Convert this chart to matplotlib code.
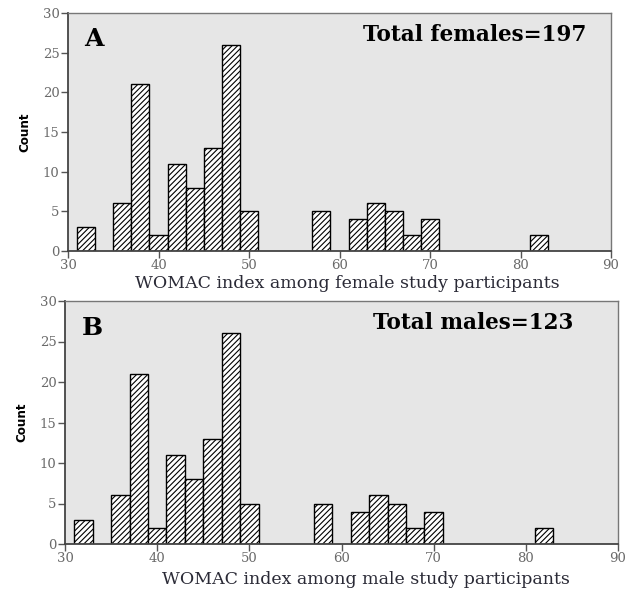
import matplotlib.pyplot as plt
import numpy as np

# WOMAC histogram, bins of width 2 (left edges listed)
bin_left = [31, 35, 37, 39, 41, 43, 45, 47, 49, 57, 61, 63, 65, 67, 69, 81]
counts = [3, 6, 21, 2, 11, 8, 13, 26, 5, 5, 4, 6, 5, 2, 4, 2]

panels = [
    ('A', 'Total females=197', 'WOMAC index among female study participants'),
    ('B', 'Total males=123', 'WOMAC index among male study participants'),
]

fig = plt.figure(figsize=(6.42, 5.92), dpi=100)
W, H = 642, 592
# pixel boxes (left, top, right, bottom) plus text placement in axes fractions
boxes = [(68, 13, 611, 251), (65, 301, 618, 544)]
total_x = [0.955, 0.92]
label_xy = [(0.514, -0.135), (0.545, -0.145)]

plt.rcParams['hatch.linewidth'] = 0.8

for i, ((letter, total, xlabel), (l, t, r, b)) in enumerate(zip(panels, boxes)):
    ax = fig.add_axes([l / W, 1 - b / H, (r - l) / W, (b - t) / H])
    ax.set_facecolor('#e6e6e6')
    ax.bar(bin_left, counts, width=2, align='edge', color='white',
           edgecolor='black', hatch='//////', linewidth=1.0)
    ax.set_xlim(30, 90)
    ax.set_ylim(0, 30)
    ax.set_xticks(np.arange(30, 91, 10))
    ax.set_yticks(np.arange(0, 31, 5))
    for s in ['left', 'bottom']:
        ax.spines[s].set_color('#444444')
        ax.spines[s].set_linewidth(1.3)
    for s in ['top', 'right']:
        ax.spines[s].set_color('#777777')
        ax.spines[s].set_linewidth(1.0)
    ax.tick_params(axis='both', colors='#555555', labelcolor='#6a6a6a',
                   labelsize=9.5, length=5, width=1, pad=1)
    for lab in ax.get_xticklabels() + ax.get_yticklabels():
        lab.set_family('DejaVu Serif')
    ax.set_ylabel('Count', family='DejaVu Sans', fontstretch='condensed',
                  fontweight='bold', fontsize=9.5, labelpad=8)
    ax.set_xlabel(xlabel, family='DejaVu Serif', fontsize=12.5,
                  color='#2a2a36', va='center')
    ax.xaxis.set_label_coords(*label_xy[i])
    ax.text(0.03, 0.94, letter, transform=ax.transAxes, ha='left', va='top',
            family='DejaVu Serif', fontweight='bold', fontsize=18)
    ax.text(total_x[i], 0.955, total, transform=ax.transAxes, ha='right',
            va='top', family='DejaVu Serif', fontweight='bold', fontsize=15.5)

fig.savefig('out.png', dpi=100)
